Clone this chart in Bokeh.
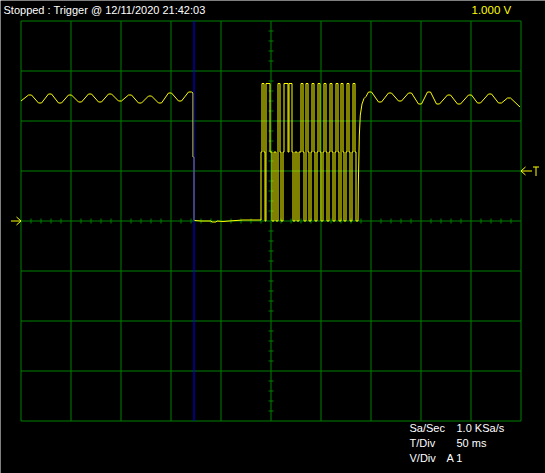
from bokeh.plotting import figure
from bokeh.models import Range1d
from bokeh.core.properties import value
from bokeh.embed import file_html
from bokeh.resources import INLINE

# ---------------- data ----------------
t_per_div = 50          # ms / div
v_per_div = 1.0         # V / div
n_xdiv = 10
n_ydiv = 8

title_text = "Stopped : Trigger @ 12/11/2020 21:42:03"
scale_text = "1.000 V"
info_labels = ["Sa/Sec", "T/Div", "V/Div"]
info_values = ["1.0 KSa/s", "50 ms", "A 1"]

trigger_level = 1.0     # V
ground_level = 0.0      # V
cursor_t = 173          # ms

# ripple extrema before the drop (ms, V)
pre_t = [0, 9, 19, 29, 39, 49, 59, 69, 79, 89, 99, 109, 119, 129, 139, 149, 159, 169]
pre_v = [2.40, 2.52, 2.36, 2.54, 2.36, 2.52, 2.38, 2.54, 2.38, 2.54, 2.40, 2.52, 2.36, 2.50,
         2.36, 2.56, 2.40, 2.58]
# drop (ms, V)
drop_t = [172, 172, 173, 173]
drop_v = [2.56, 1.28, 1.28, 0.01]

# quiet section (ms, V)
low_t = [174, 180, 190, 191, 195, 196, 202, 208, 215, 222, 228, 239]
low_v = [0.01, 0.0, 0.0, -0.02, -0.02, 0.0, -0.01, 0.0, 0.01, 0.02, 0.02, 0.02]

# burst: segment start times (ms) and levels (V)
burst_t = [240, 241, 243, 244, 245, 249, 251, 253, 255, 257, 259, 260, 262, 263, 267, 268,
           271, 272, 274, 276, 278, 280, 282, 283, 285, 287, 288, 290, 291, 293, 294, 296,
           297, 299, 300, 302, 303, 305, 306, 308, 309, 311, 312, 314, 315, 317, 318, 320,
           322, 323, 325, 326, 328, 329, 331, 332, 334, 335]
burst_v = [1.38, 2.75, 1.38, 0.0, 2.75, 1.38, 0.0, 1.38, 0.0, 2.75, 1.38, 0.0, 1.38, 2.75, 1.38, 2.75,
           1.38, 0.0, 1.38, 0.0, 1.38, 2.75, 1.38, 0.0, 2.75, 1.38, 0.0, 1.38, 2.75, 1.38, 0.0, 1.38,
           2.75, 1.38, 0.0, 1.38, 2.75, 1.38, 0.0, 1.38, 2.75, 1.38, 0.0, 1.38, 2.75, 1.38, 0.0, 2.75,
           1.38, 0.0, 1.38, 2.75, 1.38, 0.0, 1.38, 2.75, 1.38, 0.0]
burst_end = 337

# recovery (ms, V)
rec_t = [337.3, 338.3, 339.3, 341, 343, 345]
rec_v = [0.70, 1.70, 2.12, 2.34, 2.45, 2.49]

# ripple extrema after the burst (ms, V)
post_t = [349, 359, 369, 379, 389, 399, 408, 417, 428, 438, 449, 458, 469, 479, 488, 499]
post_v = [2.58, 2.38, 2.56, 2.40, 2.56, 2.34, 2.58, 2.34, 2.52, 2.34, 2.52, 2.36, 2.54, 2.36, 2.46, 2.28]

# ---------------- build trace ----------------
flat = 1.5  # half-width of the rounded crest drawn at each ripple extremum (ms)


def crests(ts, vs, first_open=True, last_open=True):
    ot, ov = [], []
    for i, (t, v) in enumerate(zip(ts, vs)):
        if (i == 0 and first_open) or (i == len(ts) - 1 and last_open):
            ot.append(t); ov.append(v)
        else:
            ot += [t - flat, t + flat]; ov += [v, v]
    return ot, ov


a_t, a_v = crests(pre_t, pre_v, True, False)
b_t, b_v = crests(post_t, post_v, False, True)

tt = a_t + drop_t + low_t
vv = a_v + drop_v + low_v
tt.append(burst_t[0]); vv.append(low_v[-1])
for i, (s, lv) in enumerate(zip(burst_t, burst_v)):
    e = burst_t[i + 1] if i + 1 < len(burst_t) else burst_end
    tt += [s, e]; vv += [lv, lv]
tt += rec_t + b_t
vv += rec_v + b_v

# ---------------- figure ----------------
W, H = 545, 473
x_total = n_xdiv * t_per_div
y_half = n_ydiv / 2 * v_per_div
px_per_ms = 1.0
px_per_v = 50.0
left_px, top_px = 20.5, 20.5
x0 = -left_px / px_per_ms
x1 = x0 + W / px_per_ms
ytop = y_half + top_px / px_per_v
ybot = ytop - H / px_per_v

p = figure(width=W, height=H, output_backend="svg", toolbar_location=None,
           x_range=Range1d(x0, x1), y_range=Range1d(ybot, ytop),
           x_axis_location=None, y_axis_location=None,
           min_border=0, min_border_left=0, min_border_right=0,
           min_border_top=0, min_border_bottom=0)
p.background_fill_color = "black"
p.border_fill_color = "black"
p.outline_line_color = None
p.grid.visible = False

green = "#008000"
yellow = "#ffff00"

# grid
gx = [i * t_per_div for i in range(n_xdiv + 1)]
gy = [-y_half + j * v_per_div for j in range(n_ydiv + 1)]
p.segment(x0=gx, y0=[-y_half] * len(gx), x1=gx, y1=[y_half] * len(gx), line_color=green, line_width=1)
p.segment(x0=[0] * len(gy), y0=gy, x1=[x_total] * len(gy), y1=gy, line_color=green, line_width=1)

# ticks on center lines
tick_half_x = 2.5 / px_per_ms
tick_half_y = 2.5 / px_per_v
xt = [k * t_per_div / 5 for k in range(1, n_xdiv * 5) if k % 5]
p.segment(x0=xt, y0=[-tick_half_y] * len(xt), x1=xt, y1=[tick_half_y] * len(xt), line_color=green, line_width=1)
yt = [-y_half + k * v_per_div / 5 for k in range(1, n_ydiv * 5) if k % 5]
xc = x_total / 2
p.segment(x0=[xc - tick_half_x] * len(yt), y0=yt, x1=[xc + tick_half_x] * len(yt), y1=yt, line_color=green, line_width=1)

# trace
p.line(tt, vv, line_color=yellow, line_width=1)

# cursor
p.segment(x0=[cursor_t], y0=[-y_half], x1=[cursor_t], y1=[y_half], line_color="#0000ff", line_width=1)

# ground marker (left) and trigger marker (right)
gl = ground_level
hx, hy = 4.5 / px_per_ms, 4 / px_per_v
p.segment(x0=[-10, -hx, -hx], y0=[gl, gl + hy, gl - hy], x1=[0, 0, 0], y1=[gl, gl, gl],
          line_color=yellow, line_width=1)
tl = trigger_level
p.segment(x0=[x_total, x_total, x_total], y0=[tl, tl, tl],
          x1=[x_total + 11, x_total + hx, x_total + hx], y1=[tl, tl + hy, tl - hy],
          line_color=yellow, line_width=1)
p.segment(x0=[x_total + 12, x_total + 15], y0=[tl + hy, tl + hy],
          x1=[x_total + 18, x_total + 15], y1=[tl + hy, tl - 5 / px_per_v],
          line_color=yellow, line_width=1)

font = value("Liberation Sans")
# texts
p.text(x=[x0 + 3], y=[ytop - 9.5 / px_per_v], text=[title_text], text_color="white",
       text_font=font, text_font_size="11px", text_baseline="middle", text_align="left")
p.text(x=[x0 + 471], y=[ytop - 9.5 / px_per_v], text=[scale_text], text_color=yellow,
       text_font=font, text_font_size="11.5px", text_baseline="middle", text_align="left")
rows = [ytop - (427 + 15 * i) / px_per_v for i in range(3)]
p.text(x=[x0 + 409] * 3, y=rows, text=info_labels, text_color="white",
       text_font=font, text_font_size="11px", text_baseline="middle", text_align="left")
p.text(x=[x0 + 456, x0 + 456, x0 + 446], y=rows, text=info_values, text_color="white",
       text_font=font, text_font_size="11px", text_baseline="middle", text_align="left")

open("out.html", "w").write(file_html(p, INLINE))
